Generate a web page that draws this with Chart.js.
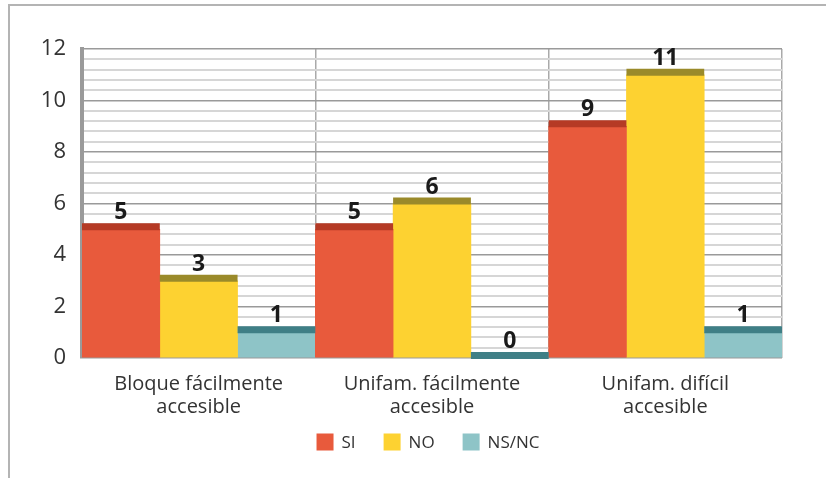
<!DOCTYPE html>
<html>
<head>
<meta charset="utf-8">
<script src="https://cdn.jsdelivr.net/npm/chart.js@4"></script>
<style>
  html, body { margin: 0; padding: 0; background: #fff; }
  #wrap { position: relative; width: 826px; height: 478px; }
  #frame {
    position: absolute; left: 8px; top: 4px; right: 0; bottom: 0;
    border-top: 2px solid #b4b4b4; border-left: 2px solid #b4b4b4;
  }
  canvas { position: absolute; left: 0; top: 0; }
</style>
</head>
<body>
<div id="wrap">
  <div id="frame"></div>
  <canvas id="chart" width="826" height="478"></canvas>
</div>
<script>
// Categories and series
const categories = [
  ['Bloque fácilmente', 'accesible'],
  ['Unifam. fácilmente', 'accesible'],
  ['Unifam. difícil', 'accesible']
];
const seriesNames = ['SI', 'NO', 'NS/NC'];
const siValues = [5, 5, 9];
const noValues = [3, 6, 11];
const nsncValues = [1, 0, 1];

const fillColors = ['#e85a3c', '#fdd231', '#8ec4c7'];
const topColors = ['#b53a25', '#9a8a2a', '#3f7f86'];
const fontFamily = '"Open Sans", Roboto, "DejaVu Sans", sans-serif';

// Fake 3D top faces plus value labels above each bar
const barDecor = {
  id: 'barDecor',
  afterDatasetsDraw(chart) {
    const ctx = chart.ctx;
    chart.data.datasets.forEach((ds, di) => {
      const meta = chart.getDatasetMeta(di);
      meta.data.forEach((bar, i) => {
        const w = bar.width;
        ctx.save();
        ctx.fillStyle = topColors[di];
        ctx.fillRect(bar.x - w / 2, bar.y - 6, w, 7);
        ctx.fillStyle = '#1a1a1a';
        ctx.font = 'bold 23px ' + fontFamily;
        ctx.textAlign = 'center';
        ctx.textBaseline = 'alphabetic';
        ctx.fillText(String(ds.data[i]), bar.x, bar.y - 10);
        ctx.restore();
      });
    });
  }
};

// Legend row under the axis labels (built from the dataset labels/colours)
const bottomLegend = {
  id: 'bottomLegend',
  afterDraw(chart) {
    const ctx = chart.ctx;
    const box = 17, gap = 28, textGap = 8;
    const cx = 428, cy = 442;
    ctx.save();
    ctx.font = '17px ' + fontFamily;
    const items = chart.data.datasets.map(ds => ({
      text: ds.label, color: ds.backgroundColor, w: box + textGap + ctx.measureText(ds.label).width
    }));
    const total = items.reduce((s, it) => s + it.w, 0) + gap * (items.length - 1);
    let x = cx - total / 2;
    items.forEach(it => {
      ctx.fillStyle = it.color;
      ctx.fillRect(x, cy - box / 2, box, box);
      ctx.fillStyle = '#333';
      ctx.textBaseline = 'middle';
      ctx.textAlign = 'left';
      ctx.fillText(it.text, x + box + textGap, cy + 1);
      x += it.w + gap;
    });
    ctx.restore();
  }
};

function isMajor(v) {
  const r = Math.round(v);
  return Math.abs(v - r) < 1e-6 && r % 2 === 0;
}

new Chart(document.getElementById('chart'), {
  type: 'bar',
  data: {
    labels: categories,
    datasets: [
      { label: seriesNames[0], data: siValues, backgroundColor: fillColors[0] },
      { label: seriesNames[1], data: noValues, backgroundColor: fillColors[1] },
      { label: seriesNames[2], data: nsncValues, backgroundColor: fillColors[2] }
    ]
  },
  options: {
    responsive: false,
    animation: false,
    layout: { padding: { left: 10, right: 0, top: 49, bottom: 58 } },
    datasets: { bar: { barPercentage: 1, categoryPercentage: 1 } },
    plugins: {
      tooltip: { enabled: false },
      legend: { display: false }
    },
    scales: {
      x: {
        afterFit(scale) { scale.height = 62; },
        grid: { offset: true, color: '#aaaaaa', lineWidth: 1.5, drawTicks: false },
        border: { display: false },
        ticks: {
          color: '#333',
          padding: 15,
          font: { family: fontFamily, size: 20, lineHeight: 1.15 }
        }
      },
      y: {
        min: 0,
        max: 12,
        afterFit(scale) { scale.width = 72; },
        ticks: {
          stepSize: 0.4,
          autoSkip: false,
          padding: 16,
          color: '#333',
          font: { family: fontFamily, size: 22 },
          callback: (v) => isMajor(v) ? String(Math.round(v)) : ''
        },
        grid: {
          drawTicks: false,
          color: (c) => isMajor(c.tick.value) ? '#9a9a9a' : '#d6d6d6',
          lineWidth: (c) => isMajor(c.tick.value) ? 1.5 : 2
        },
        border: { color: '#9a9a9a', width: 4 }
      },
      // empty spacer on the right so the plot stops where the reference does
      yRight: {
        position: 'right',
        afterFit(scale) { scale.width = 44; },
        ticks: { display: false },
        grid: { display: false },
        border: { display: false }
      }
    }
  },
  plugins: [barDecor, bottomLegend]
});
</script>
</body>
</html>
